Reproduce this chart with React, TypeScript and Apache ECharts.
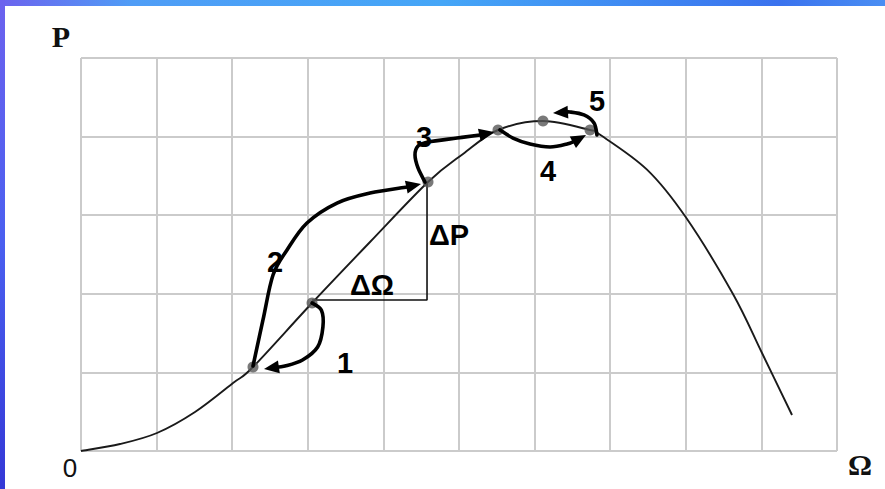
import React, { useEffect, useRef } from "react";
import * as echarts from "echarts";

// Main P(Ω) curve (data units: one grid cell = 1)
const curveOmega = [0, 0.516, 1.005, 1.508, 2.011, 2.275, 3.056, 3.823, 4.59, 5.053, 5.516, 6.111, 6.733, 6.852, 7.487, 8.003, 8.624, 9.008, 9.405];
const curveP = [0, 0.089, 0.229, 0.496, 0.865, 1.069, 1.883, 2.659, 3.422, 3.779, 4.084, 4.198, 4.084, 4.033, 3.58, 2.97, 1.997, 1.247, 0.458];

// Operating points on the curve
const pointOmega = [2.275, 3.056, 4.59, 5.516, 6.111, 6.733];
const pointP = [1.069, 1.883, 3.422, 4.084, 4.198, 4.084];

// ΔΩ / ΔP construction
const deltaOmega = [3.056, 4.577, 4.577];
const deltaP = [1.921, 1.921, 3.4];

// Step arrows (Ω, P pairs), last pair is the arrow tip
const arrow1: number[][] = [[3.056, 1.883], [3.18, 1.79], [3.2, 1.578], [3.13, 1.323], [2.93, 1.158], [2.698, 1.081], [2.421, 1.043]];
const arrow2: number[][] = [[2.275, 1.081], [2.407, 1.667], [2.54, 2.239], [2.725, 2.557], [2.989, 2.901], [3.386, 3.155], [3.823, 3.282], [4.312, 3.359], [4.497, 3.397]];
const arrow3: number[][] = [[4.55, 3.422], [4.458, 3.601], [4.418, 3.766], [4.458, 3.88], [4.59, 3.931], [4.974, 3.982], [5.278, 4.02], [5.463, 4.059]];
const arrow4: number[][] = [[5.542, 4.084], [5.714, 3.982], [5.939, 3.906], [6.204, 3.868], [6.429, 3.906], [6.561, 3.957], [6.68, 4.02]];
const arrow5: number[][] = [[6.825, 4.02], [6.786, 4.173], [6.653, 4.275], [6.468, 4.313], [6.243, 4.3]];
const arrows = [arrow1, arrow2, arrow3, arrow4, arrow5];

// Annotation labels
const labelTexts = ["1", "2", "3", "4", "5", "ΔΩ", "ΔP"];
const labelOmega = [3.492, 2.566, 4.537, 6.177, 6.825, 3.849, 4.868];
const labelP = [1.12, 2.405, 3.995, 3.562, 4.453, 2.112, 2.748];

function splinePath(body: number[][]): string {
  let d = `M${body[0][0]},${body[0][1]}`;
  for (let i = 0; i < body.length - 1; i++) {
    const p0 = body[i - 1] || body[i];
    const p1 = body[i];
    const p2 = body[i + 1];
    const p3 = body[i + 2] || body[i + 1];
    const c1 = [p1[0] + (p2[0] - p0[0]) / 6, p1[1] + (p2[1] - p0[1]) / 6];
    const c2 = [p2[0] - (p3[0] - p1[0]) / 6, p2[1] - (p3[1] - p1[1]) / 6];
    d += ` C${c1[0]},${c1[1]} ${c2[0]},${c2[1]} ${p2[0]},${p2[1]}`;
  }
  return d;
}

export default function App() {
  const ref = useRef<HTMLDivElement>(null);

  useEffect(() => {
    document.body.style.margin = "0";
    if (!ref.current) return;
    const chart = echarts.init(ref.current, null, { renderer: "svg" });

    const renderCurve = (params: any, api: any) => {
      const pts: number[][] = curveOmega.map((x, i) => api.coord([x, curveP[i]]));
      return {
        type: "path",
        shape: { pathData: splinePath(pts) },
        style: { fill: "none", stroke: "#1a1a1a", lineWidth: 1.9 },
      };
    };

    const renderArrow = (params: any, api: any) => {
      const idx = api.value(2);
      const pts: number[][] = arrows[idx].map((p) => api.coord(p));
      const n = pts.length;
      const tip = pts[n - 1];
      const prev = pts[n - 2];
      let dx = tip[0] - prev[0];
      let dy = tip[1] - prev[1];
      const len = Math.hypot(dx, dy) || 1;
      dx /= len;
      dy /= len;
      const L = 15;
      const W = 6.5;
      const base = [tip[0] - dx * L, tip[1] - dy * L];
      const body = pts.slice(0, n - 1).concat([[tip[0] - dx * (L - 4), tip[1] - dy * (L - 4)]]);
      return {
        type: "group",
        children: [
          { type: "path", shape: { pathData: splinePath(body) }, style: { fill: "none", stroke: "#000", lineWidth: 3.6, lineCap: "round" } },
          {
            type: "polygon",
            shape: {
              points: [tip, [base[0] - dy * W, base[1] + dx * W], [base[0] + dy * W, base[1] - dx * W]],
            },
            style: { fill: "#000" },
          },
        ],
      };
    };

    const option: any = {
      animation: false,
      backgroundColor: "#ffffff",
      grid: { left: 81, top: 58, right: 48, bottom: 38 },
      xAxis: {
        type: "value",
        min: 0,
        max: 10,
        interval: 1,
        axisLine: { show: false },
        axisTick: { show: false },
        axisLabel: { show: false },
        splitLine: { show: true, lineStyle: { color: "#cbcbcb", width: 2 } },
      },
      yAxis: {
        type: "value",
        min: 0,
        max: 5,
        interval: 1,
        axisLine: { show: false },
        axisTick: { show: false },
        axisLabel: { show: false },
        splitLine: { show: true, lineStyle: { color: "#cbcbcb", width: 2 } },
      },
      graphic: [
        {
          type: "rect",
          shape: { x: 0, y: 0, width: 885, height: 6 },
          style: {
            fill: new echarts.graphic.LinearGradient(0, 0, 1, 0, [
              { offset: 0, color: "#6c62ee" },
              { offset: 0.15, color: "#4f9df6" },
              { offset: 0.5, color: "#45a6f7" },
              { offset: 0.88, color: "#3a72ee" },
              { offset: 1, color: "#4a8ef3" },
            ]),
          },
          z: 100,
        },
        {
          type: "rect",
          shape: { x: 0, y: 0, width: 5, height: 489 },
          style: {
            fill: new echarts.graphic.LinearGradient(0, 0, 0, 1, [
              { offset: 0, color: "#6c62ee" },
              { offset: 0.5, color: "#4a5ff0" },
              { offset: 1, color: "#3438d6" },
            ]),
          },
          z: 100,
        },
        {
          type: "text",
          x: 61,
          y: 36,
          style: { text: "P", font: "bold 30px 'Liberation Serif', 'DejaVu Serif', serif", fill: "#111", align: "center", verticalAlign: "middle" },
        },
        {
          type: "text",
          x: 70,
          y: 468,
          style: { text: "0", font: "26px 'Liberation Sans', Arial, sans-serif", fill: "#111", align: "center", verticalAlign: "middle" },
        },
        {
          type: "text",
          x: 860,
          y: 464,
          style: { text: "Ω", font: "bold 30px 'Liberation Serif', 'DejaVu Serif', serif", fill: "#111", align: "center", verticalAlign: "middle" },
        },
      ],
      series: [
        {
          type: "custom",
          coordinateSystem: "cartesian2d",
          data: [[curveOmega[0], curveP[0]]],
          renderItem: renderCurve,
          silent: true,
          z: 2,
        },
        {
          type: "line",
          data: deltaOmega.map((x, i) => [x, deltaP[i]]),
          symbol: "none",
          lineStyle: { color: "#111", width: 1.6 },
          z: 2,
        },
        {
          type: "scatter",
          data: pointOmega.map((x, i) => [x, pointP[i]]),
          symbolSize: 11,
          itemStyle: { color: "#585858" },
          z: 3,
        },
        {
          type: "custom",
          coordinateSystem: "cartesian2d",
          data: arrows.map((a, i) => [a[0][0], a[0][1], i]),
          renderItem: renderArrow,
          z: 4,
        },
        {
          type: "scatter",
          data: labelOmega.map((x, i) => [x, labelP[i], labelTexts[i]]),
          symbolSize: 1,
          itemStyle: { color: "rgba(0,0,0,0)" },
          label: {
            show: true,
            position: "inside",
            formatter: (p: any) => p.value[2],
            color: "#000",
            opacity: 1,
            textBorderWidth: 0,
            fontFamily: "'Liberation Sans', Arial, sans-serif",
            fontWeight: "bold",
            fontSize: 29,
          },
          z: 5,
        },
      ],
    };
    chart.setOption(option);
    return () => chart.dispose();
  }, []);

  return <div ref={ref} style={{ width: 885, height: 489 }} />;
}
